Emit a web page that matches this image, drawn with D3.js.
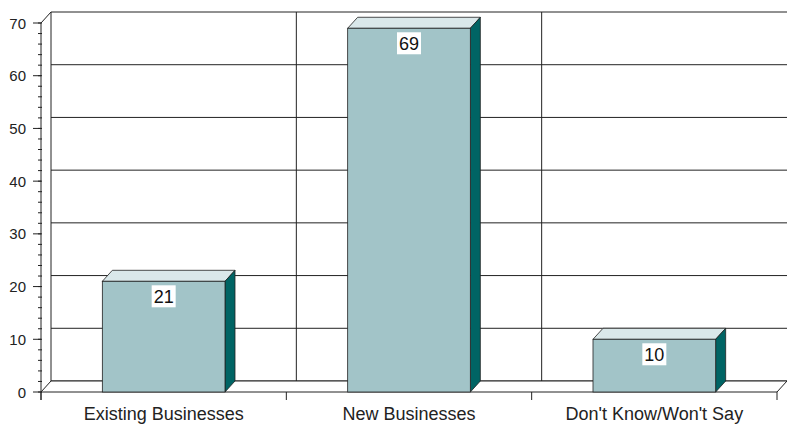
<!DOCTYPE html>
<html>
<head>
<meta charset="utf-8">
<script src="https://cdn.jsdelivr.net/npm/d3@7"></script>
<style>
  body { margin: 0; background: #fff; }
  svg { display: block; font-family: "Liberation Sans", Arial, sans-serif; }
</style>
</head>
<body>
<svg width="787" height="428"></svg>
<script>
// chart data
const categories = ['Existing Businesses', 'New Businesses', "Don't Know/Won't Say"];
const values = [21, 69, 10];
const yTicks = [0, 10, 20, 30, 40, 50, 60, 70];

const svg = d3.select('svg');
const plot = { left: 41, right: 777, bottom: 392, top: 23 };
const dx = 10, dy = 11; // 3d depth offset
const line = '#222';

const x = d3.scaleBand().domain(categories).range([plot.left, plot.right])
  .paddingInner(0.5).paddingOuter(0.25);
const y = d3.scaleLinear().domain([0, 70]).range([plot.bottom, plot.top]);

// back wall gridlines
const g = svg.append('g');
g.selectAll('.hgrid').data(yTicks).enter().append('line')
  .attr('x1', plot.left + dx).attr('x2', 787)
  .attr('y1', d => y(d) - dy).attr('y2', d => y(d) - dy)
  .attr('stroke', line).attr('stroke-width', 1);

// vertical grid at category boundaries on the back wall
const bounds = [plot.left, ...categories.map((c, i) => plot.left + (i + 1) * x.step())];
g.selectAll('.vgrid').data(bounds.slice(1, -1)).enter().append('line')
  .attr('x1', d => d + dx).attr('x2', d => d + dx)
  .attr('y1', y(70) - dy).attr('y2', y(0) - dy)
  .attr('stroke', line);

// back wall left edge and side wall
g.append('line').attr('x1', plot.left + dx).attr('x2', plot.left + dx)
  .attr('y1', y(70) - dy).attr('y2', y(0) - dy).attr('stroke', line);
g.append('line').attr('x1', plot.left).attr('y1', y(70))
  .attr('x2', plot.left + dx).attr('y2', y(70) - dy).attr('stroke', line);

// floor
g.append('path')
  .attr('d', `M${plot.left},${y(0)}L${plot.right},${y(0)}L${plot.right + dx},${y(0) - dy}L${plot.left + dx},${y(0) - dy}Z`)
  .attr('fill', '#fff').attr('stroke', line);

// bars
const bars = svg.append('g').selectAll('g').data(values).enter().append('g');
const bx = (d, i) => x(categories[i]);
const bw = x.bandwidth();

bars.append('path') // top face
  .attr('d', (d, i) => {
    const x0 = bx(d, i), yt = y(d);
    return `M${x0},${yt}L${x0 + dx},${yt - dy}L${x0 + bw + dx},${yt - dy}L${x0 + bw},${yt}Z`;
  })
  .attr('fill', '#dae8ea').attr('stroke', line).attr('stroke-width', 0.8);

bars.append('path') // side face
  .attr('d', (d, i) => {
    const x1 = bx(d, i) + bw, yt = y(d);
    return `M${x1},${yt}L${x1 + dx},${yt - dy}L${x1 + dx},${y(0) - dy}L${x1},${y(0)}Z`;
  })
  .attr('fill', '#006464').attr('stroke', line).attr('stroke-width', 0.8);

bars.append('rect') // front face
  .attr('x', bx).attr('y', d => y(d))
  .attr('width', bw).attr('height', d => y(0) - y(d))
  .attr('fill', '#a2c4c8').attr('stroke', line).attr('stroke-width', 0.8);

// value labels with white boxes
bars.append('rect')
  .attr('x', (d, i) => bx(d, i) + bw / 2 - 12)
  .attr('y', d => y(d) + 4)
  .attr('width', 24).attr('height', 22)
  .attr('fill', '#fff');
bars.append('text')
  .attr('x', (d, i) => bx(d, i) + bw / 2)
  .attr('y', d => y(d) + 22)
  .attr('text-anchor', 'middle')
  .attr('font-size', 18).attr('fill', '#111')
  .text(d => d);

// y axis
const ax = svg.append('g');
ax.append('line').attr('x1', plot.left).attr('x2', plot.left)
  .attr('y1', y(70)).attr('y2', y(0) + 8).attr('stroke', line);
ax.selectAll('.minor').data(d3.range(0, 71, 2)).enter().append('line')
  .attr('x1', plot.left - 3).attr('x2', plot.left + 1)
  .attr('y1', d => y(d)).attr('y2', d => y(d)).attr('stroke', line);
ax.selectAll('.major').data(yTicks).enter().append('line')
  .attr('x1', plot.left - 8).attr('x2', plot.left)
  .attr('y1', d => y(d)).attr('y2', d => y(d)).attr('stroke', line);
ax.selectAll('.ylab').data(yTicks).enter().append('text')
  .attr('x', plot.left - 15).attr('y', d => y(d) + 5.5)
  .attr('text-anchor', 'end').attr('font-size', 15).attr('fill', '#222')
  .text(d => d);

// x axis ticks and labels
ax.selectAll('.xtick').data(bounds).enter().append('line')
  .attr('x1', d => d).attr('x2', d => d)
  .attr('y1', y(0)).attr('y2', y(0) + 8).attr('stroke', line);
ax.selectAll('.xlab').data(categories).enter().append('text')
  .attr('x', d => x(d) + bw / 2).attr('y', 420)
  .attr('text-anchor', 'middle').attr('font-size', 18).attr('fill', '#222')
  .text(d => d);
</script>
</body>
</html>
